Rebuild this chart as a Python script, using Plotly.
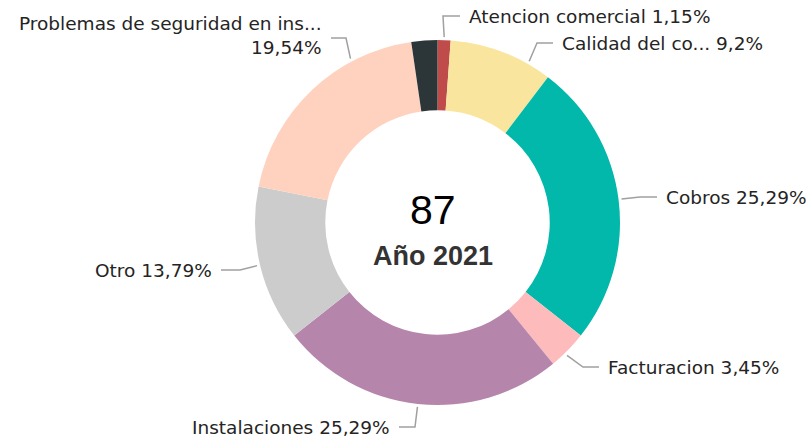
import math
import plotly.graph_objects as go

# Cases per category, year 2021
categories = [
    "Atencion comercial",
    "Calidad del co...",
    "Cobros",
    "Facturacion",
    "Instalaciones",
    "Otro",
    "Problemas de seguridad en ins...",
    "Sin clasificar",
]
counts = [1, 8, 22, 3, 22, 12, 17, 2]
colors = ["#BF4B4B", "#F9E59D", "#01B8AA", "#FDBBBB", "#B685AC",
          "#CCCCCC", "#FFD2BF", "#2C3537"]
year_label = "Año 2021"

W, H = 810, 440
CX, CY, R = 437.5, 222.5, 182.5
HOLE = 0.615
LABEL_FONT = dict(family="DejaVu Sans", size=18.5, color="#252423")

total = sum(counts)
pct = [c / total * 100 for c in counts]


def fmt_pct(p):
    s = f"{p:.2f}".rstrip("0").rstrip(".")
    return s.replace(".", ",") + "%"


fig = go.Figure(go.Pie(
    labels=categories,
    values=counts,
    sort=False,
    direction="clockwise",
    rotation=0,
    hole=HOLE,
    marker=dict(colors=colors, line=dict(width=0)),
    textinfo="none",
    hoverinfo="label+value+percent",
    domain=dict(x=[(CX - R) / W, (CX + R) / W],
                y=[1 - (CY + R) / H, 1 - (CY - R) / H]),
    showlegend=False,
))

# Label placement: (position inside slice 0..1, elbow x, elbow y, text x, anchor)
placement = {
    "Atencion comercial": (0.5, 443, 16, 467, "left"),
    "Calidad del co...": (0.77, 537, 43, 560, "left"),
    "Cobros": (0.5, 640, 197, 664, "left"),
    "Facturacion": (0.6, 583, 367, 606, "left"),
    "Instalaciones": (0.5, 415, 427, 392, "right"),
    "Otro": (0.5, 240, 270, 214, "right"),
    "Problemas de seguridad en ins...": (0.72, 346, 38, 324, "right"),
}


def px(x, y):
    return x / W, 1 - y / H


shapes = []
annotations = []
cum = 0
for cat, c, p in zip(categories, counts, pct):
    start, end = cum, cum + c
    cum = end
    if cat not in placement:
        continue
    frac, ex, ey, tx, anchor = placement[cat]
    ang = 2 * math.pi * (start + frac * (end - start)) / total
    sx = CX + (R + 3) * math.sin(ang)
    sy = CY - (R + 3) * math.cos(ang)
    lx = tx + (-7 if anchor == "left" else 7)
    path_pts = [px(sx, sy), px(ex, ey), px(lx, ey)]
    path = "M " + " L ".join(f"{a},{b}" for a, b in path_pts)
    shapes.append(dict(type="path", xref="paper", yref="paper", path=path,
                       line=dict(color="#A0A0A0", width=1.5)))
    if cat.startswith("Problemas"):
        text = f"{cat}<br>{fmt_pct(p)}"
        ty = ey - 3
    else:
        text = f"{cat} {fmt_pct(p)}"
        ty = ey
    ax_, ay_ = px(tx, ty)
    annotations.append(dict(
        x=ax_, y=ay_, xref="paper", yref="paper", text=text,
        showarrow=False, xanchor=anchor, yanchor="middle", align="right",
        font=LABEL_FONT,
    ))

# Centre total and year
annotations.append(dict(
    x=433 / W, y=1 - 210 / H, xref="paper", yref="paper", text=str(total),
    showarrow=False, xanchor="center", yanchor="middle",
    font=dict(family="Liberation Sans, Arial", size=41, color="#000000"),
))
annotations.append(dict(
    x=433 / W, y=1 - 256 / H, xref="paper", yref="paper", text=f"<b>{year_label}</b>",
    showarrow=False, xanchor="center", yanchor="middle",
    font=dict(family="Liberation Sans, Arial", size=27, color="#333333"),
))

fig.update_layout(
    width=W, height=H,
    margin=dict(l=0, r=0, t=0, b=0),
    paper_bgcolor="white", plot_bgcolor="white",
    shapes=shapes, annotations=annotations,
)

fig.write_html("out.html")
